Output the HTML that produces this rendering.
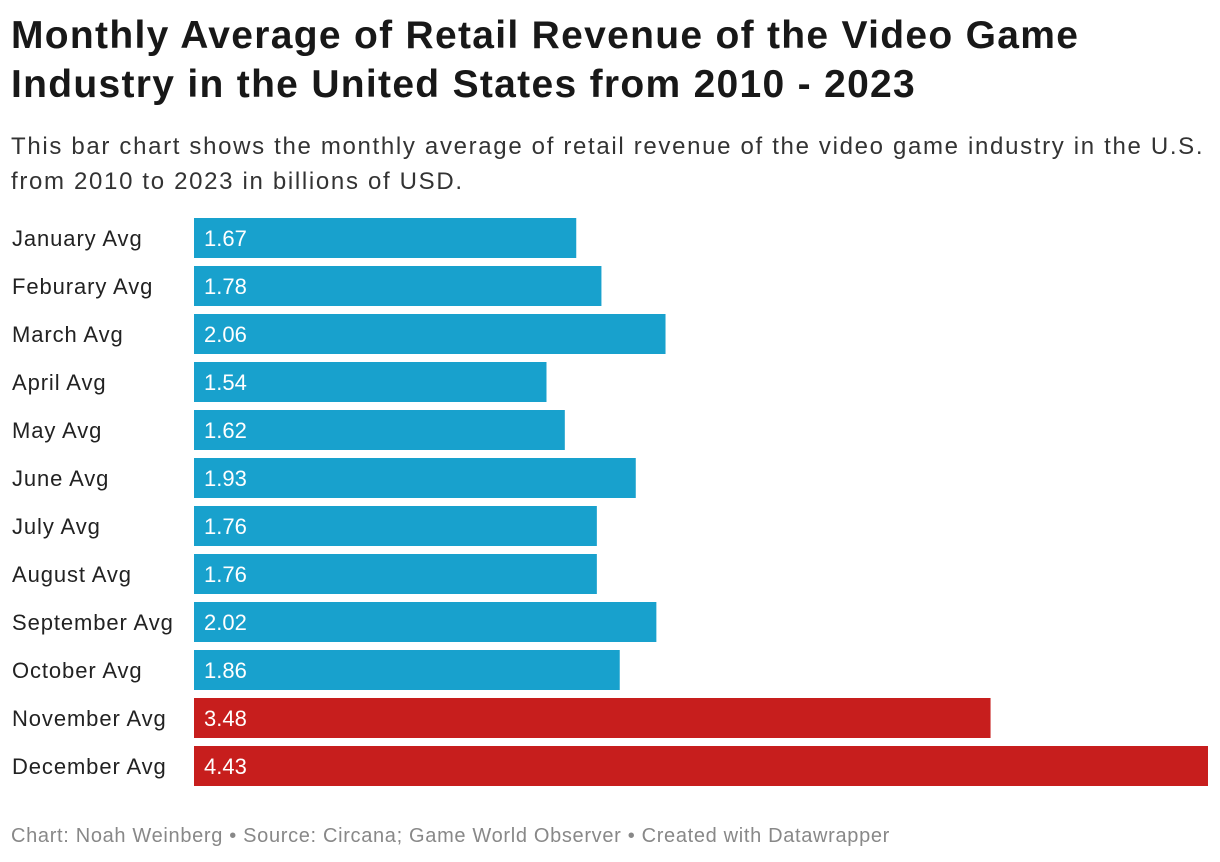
<!DOCTYPE html>
<html><head><meta charset="utf-8"><style>
body{margin:0;width:1220px;height:862px;background:#fff;font-family:"Liberation Sans",Arial,sans-serif;color:#181818;position:relative;overflow:hidden}
#title{position:absolute;left:11px;top:11px;font-size:39px;font-weight:bold;line-height:49px;margin:0;letter-spacing:1.3px;white-space:nowrap}
#sub{position:absolute;left:11px;top:129px;font-size:24px;line-height:35px;color:#333;letter-spacing:1.67px;white-space:nowrap}
#foot{position:absolute;left:11px;top:825px;font-size:20px;color:#888;letter-spacing:0.67px;white-space:nowrap}
</style></head><body>
<h1 id="title">Monthly Average of Retail Revenue of the Video Game<br>Industry in the United States from 2010 - 2023</h1>
<div id="sub">This bar chart shows the monthly average of retail revenue of the video game industry in the U.S.<br>from 2010 to 2023 in billions of USD.</div>
<svg id="chart" width="1220" height="862" style="position:absolute;left:0;top:0"></svg>
<div id="foot">Chart: Noah Weinberg • Source: Circana; Game World Observer • Created with Datawrapper</div>
<script>
const categories=["January Avg","Feburary Avg","March Avg","April Avg","May Avg","June Avg","July Avg","August Avg","September Avg","October Avg","November Avg","December Avg"];
const values=[1.67,1.78,2.06,1.54,1.62,1.93,1.76,1.76,2.02,1.86,3.48,4.43];
const highlighted=[false,false,false,false,false,false,false,false,false,false,true,true];
const svg=document.getElementById('chart');
const NS='http://www.w3.org/2000/svg';
const x0=194,x1=1208,y0=218,step=48,bh=40;
const maxV=Math.max(...values);
const xs=v=>x0+(v/maxV)*(x1-x0);
const ys=i=>y0+i*step;
categories.forEach((c,i)=>{
  const t=document.createElementNS(NS,'text');
  
  
  t.setAttribute('x',12);t.setAttribute('y',ys(i)+bh/2+8);
  t.setAttribute('font-size','22');t.setAttribute('letter-spacing','0.9');t.setAttribute('fill','#222');
  t.textContent=c;svg.appendChild(t);
  const r=document.createElementNS(NS,'rect');
  
  
  r.setAttribute('x',x0);r.setAttribute('y',ys(i));
  r.setAttribute('width',xs(values[i])-x0);r.setAttribute('height',bh);
  r.setAttribute('fill',highlighted[i]?'#c71e1d':'#18a1cd');
  svg.appendChild(r);
  const v=document.createElementNS(NS,'text');
  
  
  v.setAttribute('x',x0+10);v.setAttribute('y',ys(i)+bh/2+8);
  v.setAttribute('font-size','22');v.setAttribute('fill','#fff');
  v.textContent=values[i].toFixed(2);svg.appendChild(v);
});
</script>
</body></html>
